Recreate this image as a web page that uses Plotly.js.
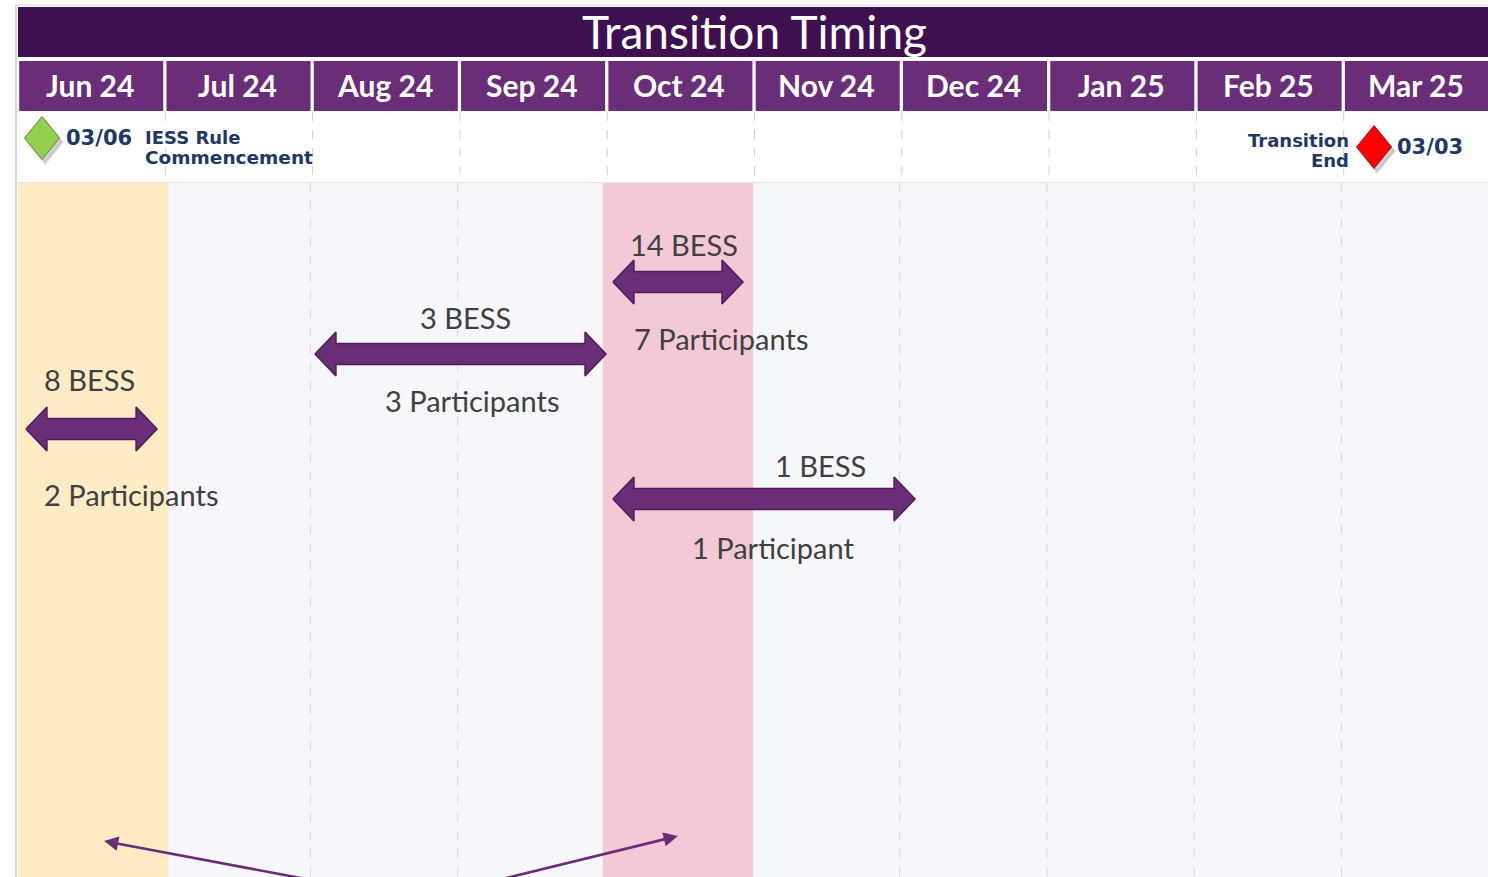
<!DOCTYPE html>
<html>
<head>
<meta charset="utf-8">
<script src="https://cdn.plot.ly/plotly-3.0.1.min.js"></script>
<style>html,body{margin:0;padding:0;background:#fff;}#chart{width:1488px;height:877px;}</style>
</head>
<body>
<div id="chart"></div>
<script>
// ---- data ----
const chartTitle = 'Transition Timing';
const months = ['Jun 24','Jul 24','Aug 24','Sep 24','Oct 24','Nov 24','Dec 24','Jan 25','Feb 25','Mar 25'];
const highlightMonths = [0, 4];
const arrowStart = [0.054, 2.016, 4.039, 4.039];
const arrowEnd   = [0.944, 3.992, 4.922, 6.09];
const arrowLane  = [429, 354, 282, 499];
const bessLabels = ['8 BESS', '3 BESS', '14 BESS', '1 BESS'];
const participantLabels = ['2 Participants', '3 Participants', '7 Participants', '1 Participant'];
const milestoneDates = ['03/06', '03/03'];
const milestoneX = [0.163, 9.206];
const milestoneLine1 = ['IESS Rule', 'Transition'];
const milestoneLine2 = ['Commencement', 'End'];

// ---- layout helpers ----
const PX = 147.3;               // pixels per month column
const X0 = -18 / PX, X1 = 1470 / PX;
const purple = '#6a2d77', darkPurple = '#3e1050', navy = '#1f3864', grey = '#404040';
const bodyFont = 'Lato, "Open Sans", sans-serif';
const msFont = '"DejaVu Sans", Verdana, sans-serif';

const shapes = [];
const annotations = [];
const traces = [];

// border lines
shapes.push({type:'line', xref:'x', yref:'y', x0:-2/PX, x1:-2/PX, y0:5, y1:877, line:{color:'#d6d6d6', width:2}, layer:'below'});
shapes.push({type:'line', xref:'x', yref:'y', x0:-2/PX, x1:X1, y0:5, y1:5, line:{color:'#d6d6d6', width:1}, layer:'below'});
// body background
shapes.push({type:'rect', xref:'x', yref:'y', x0:0, x1:X1+0.1, y0:183, y1:880, fillcolor:'#f6f7fb', line:{width:0}, layer:'below'});
shapes.push({type:'line', xref:'x', yref:'y', x0:0, x1:X1, y0:182.5, y1:182.5, line:{color:'#e6e6ea', width:1}, layer:'below'});
// highlighted months
const hlColors = ['#ffecc7', '#f4c9d6'];
const hlOffset = [[0, 0.02], [-0.03, -0.01]];
highlightMonths.forEach((m, k) => {
  shapes.push({type:'rect', xref:'x', yref:'y', x0:m + hlOffset[k][0], x1:m+1+hlOffset[k][1], y0:183, y1:880, fillcolor:hlColors[k], line:{width:0}, layer:'below'});
});
// dashed column separators
for (let i = 1; i < months.length; i++) {
  shapes.push({type:'line', xref:'x', yref:'y', x0:i, x1:i, y0:112, y1:182, line:{color:'#cfcfcf', width:1, dash:'dash'}, layer:'below'});
  if (!highlightMonths.includes(i) && !highlightMonths.includes(i-1)) {
    shapes.push({type:'line', xref:'x', yref:'y', x0:i-0.015, x1:i-0.015, y0:183, y1:877, line:{color:'#dcdcdc', width:1.2, dash:'dash'}, layer:'below'});
  }
}
// title bar
shapes.push({type:'rect', xref:'x', yref:'y', x0:0, x1:X1+0.1, y0:7, y1:57, fillcolor:darkPurple, line:{width:0}, layer:'below'});
annotations.push({xref:'x', yref:'y', x:(754-18)/PX, y:31, text:chartTitle, showarrow:false, font:{family:bodyFont, size:46, color:'#ffffff'}, xanchor:'center', yanchor:'middle'});
// month headers
months.forEach((m, i) => {
  shapes.push({type:'rect', xref:'x', yref:'y', x0:i+0.008, x1:i+1-0.014, y0:61, y1:111, fillcolor:purple, line:{width:0}, layer:'below'});
  annotations.push({xref:'x', yref:'y', x:i+0.49, y:85, text:'<b>'+m+'</b>', showarrow:false, font:{family:bodyFont, size:30, color:'#ffffff'}, xanchor:'center', yanchor:'middle'});
});

// block arrows
const headLen = 21 / PX, headH = 22, shaftH = 10.5;
arrowStart.forEach((s, k) => {
  const e = arrowEnd[k], yc = arrowLane[k];
  const xs = [s, s+headLen, s+headLen, e-headLen, e-headLen, e, e-headLen, e-headLen, s+headLen, s+headLen, s];
  const ys = [yc, yc-headH, yc-shaftH, yc-shaftH, yc-headH, yc, yc+headH, yc+shaftH, yc+shaftH, yc+headH, yc];
  traces.push({type:'scatter', mode:'lines', x:xs, y:ys, fill:'toself', fillcolor:purple, line:{color:'#4e1d5b', width:1.5}, hoverinfo:'skip', showlegend:false});
});
// arrow labels (placement per arrow)
const bessPos = [[0.16, 379, 'left'], [3.04, 317, 'center'], [4.52, 244, 'center'], [5.445, 465, 'center']];
const partPos = [[0.16, 494, 'left'], [3.08, 400, 'center'], [4.17, 338, 'left'], [5.125, 547, 'center']];
bessLabels.forEach((t, k) => {
  annotations.push({xref:'x', yref:'y', x:bessPos[k][0], y:bessPos[k][1], text:t, showarrow:false, xanchor:bessPos[k][2], yanchor:'middle', font:{family:bodyFont, size:29, color:grey}});
});
participantLabels.forEach((t, k) => {
  annotations.push({xref:'x', yref:'y', x:partPos[k][0], y:partPos[k][1], text:t, showarrow:false, xanchor:partPos[k][2], yanchor:'middle', font:{family:bodyFont, size:29, color:grey}});
});

// milestones
const msColors = ['#92d050', '#ff0000'];
const msLine = ['#5e8a2e', '#8a1a1a'];
const msY = [138, 147];
milestoneX.forEach((mx, k) => {
  const hw = 17.5 / PX, hh = 21.5, yc = msY[k];
  const sx = 3 / PX, sy = 4;
  traces.push({type:'scatter', mode:'lines', x:[mx+sx, mx+hw+sx, mx+sx, mx-hw+sx, mx+sx], y:[yc-hh+sy, yc+sy, yc+hh+sy, yc+sy, yc-hh+sy], fill:'toself', fillcolor:'rgba(0,0,0,0.18)', line:{color:'rgba(0,0,0,0.08)', width:3}, hoverinfo:'skip', showlegend:false});
  traces.push({type:'scatter', mode:'lines', x:[mx, mx+hw, mx, mx-hw, mx], y:[yc-hh, yc, yc+hh, yc, yc-hh], fill:'toself', fillcolor:msColors[k], line:{color:msLine[k], width:1}, hoverinfo:'skip', showlegend:false});
});
// milestone texts
annotations.push({xref:'x', yref:'y', x:milestoneX[0]+22/PX, y:138, text:'<b>'+milestoneDates[0]+'</b>', showarrow:false, xanchor:'left', yanchor:'middle', font:{family:msFont, size:21, color:navy}});
annotations.push({xref:'x', yref:'y', x:milestoneX[0]+101/PX, y:137, text:'<b>'+milestoneLine1[0]+'</b>', showarrow:false, xanchor:'left', yanchor:'middle', font:{family:msFont, size:18, color:navy}});
annotations.push({xref:'x', yref:'y', x:milestoneX[0]+101/PX, y:157, text:'<b>'+milestoneLine2[0]+'</b>', showarrow:false, xanchor:'left', yanchor:'middle', font:{family:msFont, size:18.5, color:navy}});
annotations.push({xref:'x', yref:'y', x:milestoneX[1]+21/PX, y:147, text:'<b>'+milestoneDates[1]+'</b>', showarrow:false, xanchor:'left', yanchor:'middle', font:{family:msFont, size:21, color:navy}});
annotations.push({xref:'x', yref:'y', x:milestoneX[1]-23/PX, y:140, text:'<b>'+milestoneLine1[1]+'</b>', showarrow:false, xanchor:'right', yanchor:'middle', font:{family:msFont, size:18, color:navy}});
annotations.push({xref:'x', yref:'y', x:milestoneX[1]-23/PX, y:160, text:'<b>'+milestoneLine2[1]+'</b>', showarrow:false, xanchor:'right', yanchor:'middle', font:{family:msFont, size:18, color:navy}});

// pointer arrows at the bottom
const pointerTip = [[0.584, 841], [4.48, 836]];
const pointerTail = [[1.99, 880], [3.26, 880]];
pointerTip.forEach((p, k) => {
  annotations.push({xref:'x', yref:'y', axref:'x', ayref:'y', x:p[0], y:p[1], ax:pointerTail[k][0], ay:pointerTail[k][1], text:'', showarrow:true, arrowhead:2, arrowsize:1.1, arrowwidth:2.6, arrowcolor:purple, standoff:0});
});

const layout = {
  width:1488, height:877,
  margin:{l:0, r:0, t:0, b:0, pad:0},
  paper_bgcolor:'#ffffff', plot_bgcolor:'#ffffff',
  xaxis:{range:[X0, X1], showgrid:false, zeroline:false, showticklabels:false, showline:false, fixedrange:true},
  yaxis:{range:[877, 0], showgrid:false, zeroline:false, showticklabels:false, showline:false, fixedrange:true},
  shapes:shapes, annotations:annotations, showlegend:false
};
Plotly.newPlot('chart', traces, layout, {staticPlot:true, displayModeBar:false});
</script>
</body>
</html>
